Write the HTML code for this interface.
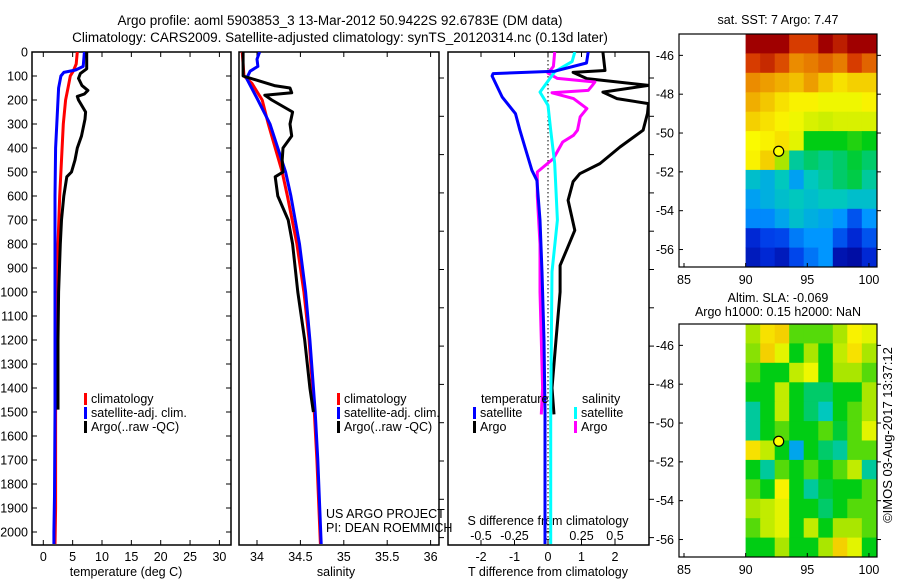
<!DOCTYPE html>
<html><head><meta charset="utf-8"><style>
body{margin:0;background:#fff}
svg{display:block;font-family:"Liberation Sans",sans-serif;font-size:12.5px}
</style></head><body>
<svg id="c" width="900" height="580" viewBox="0 0 900 580" xmlns="http://www.w3.org/2000/svg"></svg>
<script>
// ---------- data ----------
const tempTicks=[0,5,10,15,20,25,30];
const salTicks=[34,34.5,35,35.5,36];
const depthTicks=[0,100,200,300,400,500,600,700,800,900,1000,1100,1200,1300,1400,1500,1600,1700,1800,1900,2000];
const tdiffTicks=[-2,-1,0,1,2];
const sdiffTicks=[-0.5,-0.25,0,0.25,0.5];
const sdiffLabels=['-0.5','-0.25','0','0.25','0.5'];
const latTicks=[-46,-48,-50,-52,-54,-56];
const lonTicks=[85,90,95,100];

const climTDepth=[0,50,80,100,150,200,300,400,500,600,800,1000,1200,1500,1700,1900,2050];
const climT=[5.8,5.6,5.1,4.6,4.2,3.8,3.4,3.2,3.0,2.8,2.5,2.3,2.2,2.1,2.1,2.1,2.0];
const satTDepth=[0,60,75,85,100,150,200,300,400,600,800,1000,1500,1850,2000,2050];
const satT=[7.0,6.8,5.5,3.5,3.0,2.6,2.5,2.3,2.1,2.0,2.0,2.0,2.0,1.9,1.8,1.8];
const argoTDepth=[0,70,90,110,140,160,175,185,200,250,280,350,400,450,500,520,600,700,800,1000,1200,1400,1490];
const argoT=[7.4,7.4,6.3,6.0,6.6,7.6,7.0,5.8,6.0,7.2,7.1,6.5,5.8,5.4,4.8,4.0,3.5,3.1,2.9,2.6,2.5,2.5,2.5];

const climSDepth=[0,100,130,200,300,400,500,600,800,1000,1200,1500,1700,2050];
const climS=[33.83,33.85,33.94,34.06,34.13,34.21,34.29,34.35,34.46,34.54,34.6,34.66,34.69,34.73];
const satSDepth=[0,30,60,80,110,200,300,400,500,600,800,1000,1200,1500,1700,2050];
const satS=[34.03,34.0,34.01,33.92,33.88,34.01,34.15,34.24,34.33,34.39,34.49,34.56,34.61,34.67,34.7,34.74];
const argoSDepth=[0,100,140,150,170,180,200,250,300,350,400,450,500,520,600,700,800,1000,1200,1400,1500];
const argoS=[33.84,33.84,34.2,34.38,34.4,34.09,34.17,34.41,34.38,34.4,34.3,34.29,34.3,34.21,34.24,34.36,34.41,34.47,34.55,34.61,34.65];

const dTsatDepth=[0,46,80,90,100,187,257,326,396,493,535,700,916,1200,1500,2050];
const dTsat=[1.2,1.15,0.2,-1.64,-1.67,-1.37,-0.97,-0.84,-0.69,-0.48,-0.33,-0.24,-0.18,-0.12,-0.09,-0.09];
const dTargoDepth=[0,77,85,111,139,167,194,215,256,326,396,465,507,540,618,743,820,889,1000,1200,1400,1510];
const dTargo=[1.64,1.7,0.75,1.16,3.0,1.64,2.06,3.0,2.97,2.84,2.15,1.55,0.95,0.75,0.6,0.8,0.57,0.36,0.36,0.24,0.12,0.18];
const dSsatDepth=[0,40,82,167,222,326,465,700,916,1500,2050];
const dSsat=[0.2,0.18,0.05,-0.06,0,0.02,0.05,0.07,0.03,0.02,0.02];
const dSargoDepth=[0,60,88,110,125,140,160,170,194,236,270,326,347,375,444,500,600,800,1000,1200,1400,1510];
const dSargo=[0.05,0.04,0,0.07,0.35,0.33,0.3,0.03,0.19,0.29,0.24,0.22,0.19,0.11,0.04,-0.08,-0.08,-0.06,-0.06,-0.05,-0.04,-0.05];

const sstGrid=[
[1.0,1.0,1.0,0.9,0.9,1.0,0.95,1.0,1.0],
[0.9,0.93,0.88,0.8,0.82,0.85,0.82,0.9,0.85],
[0.8,0.78,0.76,0.74,0.78,0.73,0.7,0.72,0.72],
[0.76,0.73,0.7,0.68,0.68,0.66,0.66,0.66,0.68],
[0.72,0.7,0.68,0.66,0.64,0.63,0.64,0.64,0.64],
[0.67,0.68,0.7,0.65,0.5,0.5,0.5,0.52,0.5],
[0.68,0.72,0.6,0.42,0.45,0.43,0.45,0.48,0.45],
[0.38,0.35,0.4,0.32,0.4,0.42,0.45,0.47,0.42],
[0.32,0.35,0.38,0.4,0.38,0.4,0.4,0.38,0.38],
[0.28,0.28,0.33,0.38,0.35,0.33,0.3,0.2,0.3],
[0.12,0.17,0.18,0.26,0.3,0.3,0.2,0.12,0.2],
[0.08,0.12,0.08,0.18,0.25,0.3,0.06,0.04,0.12]];
const slaGrid=[
[0.6,0.7,0.72,0.55,0.55,0.55,0.6,0.68,0.65],
[0.58,0.72,0.65,0.5,0.6,0.5,0.62,0.7,0.6],
[0.55,0.5,0.5,0.62,0.66,0.5,0.6,0.6,0.55],
[0.5,0.5,0.62,0.5,0.45,0.45,0.5,0.5,0.6],
[0.42,0.5,0.62,0.5,0.45,0.4,0.5,0.55,0.6],
[0.42,0.5,0.55,0.5,0.5,0.55,0.48,0.55,0.65],
[0.7,0.62,0.5,0.33,0.5,0.45,0.42,0.55,0.55],
[0.5,0.42,0.55,0.5,0.55,0.5,0.55,0.62,0.42],
[0.55,0.5,0.68,0.5,0.42,0.48,0.5,0.5,0.55],
[0.6,0.62,0.65,0.5,0.5,0.45,0.5,0.55,0.55],
[0.55,0.62,0.65,0.5,0.62,0.5,0.6,0.6,0.55],
[0.5,0.5,0.6,0.5,0.5,0.6,0.72,0.65,0.5]];
const argoLon=92.68, argoLat=-50.94;

// ---------- helpers ----------
const svg=document.getElementById('c');
const NS='http://www.w3.org/2000/svg';
function mk(tag,attrs,parent){const e=document.createElementNS(NS,tag);for(const k in attrs)e.setAttribute(k,attrs[k]);(parent||svg).appendChild(e);return e;}
function txt(x,y,s,anchor,name,extra){const t=mk('text',Object.assign({x:x,y:y,'text-anchor':anchor||'start',fill:'#000'},extra||{}));t.textContent=s;


return t;}
const TOP=52,BOT=545;
const yD=d=>TOP+d*0.24;
const xT=v=>43.3+5.87*v;
const xS=v=>257+86.8*(v-34);
const xdT=v=>548+33.5*v;
const xdS=v=>548+134*v;
function line(xs,ds,fx,color,name,clip){const p=xs.map((v,i)=>fx(v).toFixed(1)+','+yD(ds[i]).toFixed(1)).join(' ');
const e=mk('polyline',{points:p,fill:'none',stroke:color,'stroke-width':3,'stroke-linejoin':'round','clip-path':clip?'url(#'+clip+')':''});

}
const defs=mk('defs',{});
function clipRect(id,x,y,w,h){const c=mk('clipPath',{id:id},defs);mk('rect',{x:x,y:y,width:w,height:h},c);}

// titles
txt(340,25,'Argo profile: aoml 5903853_3 13-Mar-2012 50.9422S 92.6783E (DM data)','middle','title-line-1',{'font-size':'13.5'});
txt(340,42,'Climatology: CARS2009. Satellite-adjusted climatology: synTS_20120314.nc (0.13d later)','middle','title-line-2',{'font-size':'13.5'});

// panels
const panels=[{x0:32,x1:231,n:'temperature-panel'},{x0:239,x1:439,n:'salinity-panel'},{x0:448,x1:649,n:'difference-panel'}];
panels.forEach((p,i)=>{clipRect('cl'+i,p.x0,TOP,p.x1-p.x0,BOT-TOP);
const r=mk('rect',{x:p.x0,y:TOP,width:p.x1-p.x0,height:BOT-TOP,fill:'none',stroke:'#000','stroke-width':1.5});

});

depthTicks.forEach(d=>{mk('line',{x1:32,x2:37,y1:yD(d),y2:yD(d),stroke:'#000'});mk('line',{x1:226,x2:231,y1:yD(d),y2:yD(d),stroke:'#000'});
txt(28,yD(d)+4.5,String(d),'end','depth-tick-label');});
for(let k=0;k<13;k++){const y=78+k*38.3;if(y>BOT)break;mk('line',{x1:439,x2:444,y1:y,y2:y,stroke:'#000'});mk('line',{x1:649,x2:654,y1:y,y2:y,stroke:'#000'});}
tempTicks.forEach(v=>{const x=xT(v);mk('line',{x1:x,x2:x,y1:BOT,y2:BOT-5,stroke:'#000'});mk('line',{x1:x,x2:x,y1:TOP,y2:TOP+5,stroke:'#000'});
txt(x,561,String(v),'middle','temperature-tick-label');});
txt(126,576,'temperature (deg C)','middle','x-axis-title-temperature');
salTicks.forEach(v=>{const x=xS(v);mk('line',{x1:x,x2:x,y1:BOT,y2:BOT-5,stroke:'#000'});mk('line',{x1:x,x2:x,y1:TOP,y2:TOP+5,stroke:'#000'});
txt(x,561,String(v),'middle','salinity-tick-label');});
txt(336,576,'salinity','middle','x-axis-title-salinity');
tdiffTicks.forEach(v=>{const x=xdT(v);mk('line',{x1:x,x2:x,y1:BOT,y2:BOT-5,stroke:'#000'});mk('line',{x1:x,x2:x,y1:TOP,y2:TOP+5,stroke:'#000'});
txt(x,561,String(v),'middle','t-difference-tick-label');});
sdiffTicks.forEach((v,i)=>{txt(xdS(v),540,sdiffLabels[i],'middle','s-difference-tick-label');});
txt(548,525,'S difference from climatology','middle','s-difference-axis-title');
txt(548,576,'T difference from climatology','middle','x-axis-title-t-difference');
mk('line',{x1:548,x2:548,y1:TOP,y2:BOT,stroke:'#000','stroke-dasharray':'1.5,2.5','stroke-width':1});

// profiles
line(climT,climTDepth,xT,'#ff0000','climatology-temperature-line','cl0');
line(satT,satTDepth,xT,'#0000ff','satellite-temperature-line','cl0');
line(argoT,argoTDepth,xT,'#000','argo-temperature-line','cl0');
line(climS,climSDepth,xS,'#ff0000','climatology-salinity-line','cl1');
line(satS,satSDepth,xS,'#0000ff','satellite-salinity-line','cl1');
line(argoS,argoSDepth,xS,'#000','argo-salinity-line','cl1');
line(dTargo,dTargoDepth,xdT,'#000','argo-t-difference-line','cl2');
line(dSargo,dSargoDepth,xdS,'#ff00ff','argo-s-difference-line','cl2');
line(dSsat,dSsatDepth,xdS,'#00ffff','satellite-s-difference-line','cl2');
line(dTsat,dTsatDepth,xdT,'#0000ff','satellite-t-difference-line','cl2');

// legends
function leg(x,y,color,label,name){mk('rect',{x:x,y:y-10,width:3,height:12,fill:color});txt(x+7,y,label,'start',name);}
[[84,'#ff0000','climatology'],[84,'#0000ff','satellite-adj. clim.'],[84,'#000','Argo(..raw -QC)']].forEach((l,i)=>leg(l[0],403+i*14,l[1],l[2],'legend-entry'));
[[337,'#ff0000','climatology'],[337,'#0000ff','satellite-adj. clim.'],[337,'#000','Argo(..raw -QC)']].forEach((l,i)=>leg(l[0],403+i*14,l[1],l[2],'legend-entry'));
txt(481,403,'temperature','start','legend-title-temperature');
txt(582,403,'salinity','start','legend-title-salinity');
leg(473,417,'#0000ff','satellite','legend-entry');leg(473,431,'#000','Argo','legend-entry');
leg(574,417,'#00ffff','satellite','legend-entry');leg(574,431,'#ff00ff','Argo','legend-entry');
txt(326,518,'US ARGO PROJECT','start','credit-project');
txt(326,532,'PI: DEAN ROEMMICH','start','credit-pi');

// colormap
const cmapStops=[[0,[0,0,140]],[0.15,[0,50,230]],[0.3,[0,150,255]],[0.4,[0,200,190]],[0.5,[0,205,20]],[0.6,[170,230,0]],[0.67,[250,250,0]],[0.8,[235,140,0]],[0.9,[215,60,0]],[1,[160,0,0]]];
function cmap(v){v=Math.max(0,Math.min(1,v));for(let i=1;i<cmapStops.length;i++){const a=cmapStops[i-1],b=cmapStops[i];if(v<=b[0]){const t=(v-a[0])/(b[0]-a[0]);
return 'rgb('+a[1].map((c,k)=>Math.round(c+(b[1][k]-c)*t)).join(',')+')';}}return 'rgb(160,0,0)';}
function drawMap(grid,top,bottom,lat0,lat1,name){
const L=679,R=877;const lonX=v=>684+12.33*(v-85);
const latY=v=>top+(bottom-top)*(lat0-v)/(lat0-lat1);
const rows=grid.length,cols=grid[0].length;const lonA=90,lonB=100.6;
grid.forEach((row,r)=>row.forEach((v,c)=>{const x=lonX(lonA+(lonB-lonA)*c/cols),x2=lonX(lonA+(lonB-lonA)*(c+1)/cols);
const y=latY(lat0-(lat0-lat1)*r/rows),y2=latY(lat0-(lat0-lat1)*(r+1)/rows);
const e=mk('rect',{x:x.toFixed(1),y:y.toFixed(1),width:(x2-x+0.5).toFixed(1),height:(y2-y+0.5).toFixed(1),fill:cmap(v)});

}));
const fr=mk('rect',{x:L,y:top,width:R-L,height:bottom-top,fill:'none',stroke:'#000','stroke-width':1.2});


latTicks.forEach(v=>{const y=latY(v);mk('line',{x1:L,x2:L+4,y1:y,y2:y,stroke:'#000'});mk('line',{x1:R,x2:R+4,y1:y,y2:y,stroke:'#000'});
txt(L-5,y+4.5,String(v),'end',name+'-lat-label');});
lonTicks.forEach(v=>{const x=lonX(v);mk('line',{x1:x,x2:x,y1:bottom,y2:bottom-4,stroke:'#000'});
txt(x,bottom+17,String(v),'middle',name+'-lon-label');});
const m=mk('circle',{cx:lonX(argoLon),cy:latY(argoLat),r:5,fill:'#ffff00',stroke:'#000','stroke-width':1.2});

}
drawMap(sstGrid,34,267,-44.9,-56.9,'sst-map');
drawMap(slaGrid,324,557,-44.9,-56.9,'sla-map');
txt(778,24,'sat. SST: 7 Argo: 7.47','middle','sst-map-title');
txt(778,302,'Altim. SLA: -0.069','middle','sla-map-title');
txt(778,316,'Argo h1000: 0.15 h2000: NaN','middle','sla-map-subtitle');
txt(0,0,'©IMOS 03-Aug-2017 13:37:12','middle','timestamp-credit',{transform:'translate(892,435) rotate(-90)','font-size':'13'});
</script>
</body></html>
